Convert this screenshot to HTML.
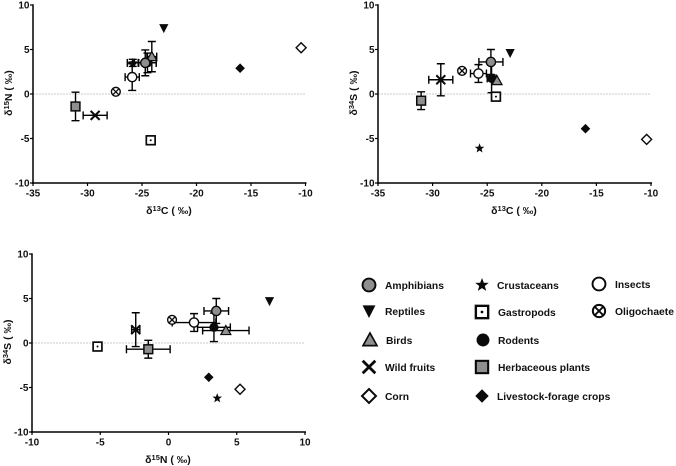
<!DOCTYPE html>
<html>
<head>
<meta charset="utf-8">
<style>
html,body{margin:0;padding:0;background:#fff;width:676px;height:466px;overflow:hidden}
svg{display:block}
text{font-family:"Liberation Sans",sans-serif;font-weight:bold;fill:#111}
</style>
</head>
<body>
<svg id="fig" width="676" height="466" viewBox="0 0 676 466" xmlns="http://www.w3.org/2000/svg">
<g id="legend"></g>
</svg>
<script>
const categories = ['rodents','herbaceous','crustaceans','insects','oligochaete','wild-fruits','birds','amphibians','reptiles','corn','gastropods','livestock'];
const legendLabels = ['Rodents','Herbaceous plants','Crustaceans','Insects','Oligochaete','Wild fruits','Birds','Amphibians','Reptiles','Corn','Gastropods','Livestock-forage crops'];
const d13cTicks = [-35,-30,-25,-20,-15,-10];
const d15nTicks = [-10,-5,0,5,10];
const d34sTicks = [-10,-5,0,5,10];

const carbonA = [-24.5,-31.1,-25.85,-25.9,-27.4,-29.3,-24.1,-24.7,-23,-10.4,-24.2,-16];
const nitrogenA = [3.5,-1.4,3.5,1.9,0.25,-2.4,4.2,3.5,7.4,5.2,-5.2,2.9];
const carbonAErr = [0.8,0.1,0.5,0.65,0,1.1,0.45,1,0,0,0,0];
const nitrogenAErr = [1.1,1.6,0.4,1.5,0,0,1.7,1.45,0,0,0,0];

const carbonB = [-24.6,-31.05,-25.7,-25.8,-27.3,-29.25,-24.1,-24.66,-22.9,-10.4,-24.2,-16];
const sulfurB = [1.75,-0.75,-6.1,2.3,2.6,1.6,1.5,3.6,4.6,-5.1,-0.3,-3.9];
const carbonBErr = [0.4,0.1,0,0.73,0,1.1,0,1.1,0,0,0,0];
const sulfurBErr = [1.6,1,0,1,0,1.8,0,1.4,0,0,0,0];

const nitrogenC = [3.33,-1.48,3.57,1.87,0.26,-2.4,4.2,3.5,7.4,5.24,-5.2,2.95];
const sulfurC = [1.76,-0.7,-6.2,2.3,2.6,1.5,1.4,3.6,4.7,-5.2,-0.4,-3.85];
const nitrogenCErr = [1.2,1.6,0,1.6,0,0.3,1.7,0.9,0,0,0,0];
const sulfurCErr = [1.6,1,0,1,0,1.9,0,1.4,0,0,0,0];

const svg = document.getElementById('fig');
const NS = 'http://www.w3.org/2000/svg';
function mk(tag, attrs, parent){
  const el = document.createElementNS(NS, tag);
  for (const k in attrs) el.setAttribute(k, attrs[k]);
  parent.appendChild(el);
  return el;
}
function marker(kind, p, cx, cy){
  const g = mk('g', {transform:'translate('+cx+','+cy+')'}, p);
  const ink = '#0a0a0a';
  if (kind==='amphibians') mk('circle',{r:4.6,fill:'#8f8f8f',stroke:ink,'stroke-width':1.4},g);
  if (kind==='reptiles') mk('path',{d:'M-4.6,-4 L4.6,-4 L0,5 Z',fill:ink},g);
  if (kind==='birds') mk('path',{d:'M0,-5 L5,4 L-5,4 Z',fill:'#8f8f8f',stroke:ink,'stroke-width':1.2},g);
  if (kind==='wild-fruits') mk('path',{d:'M-4.5,-4.5 L4.5,4.5 M-4.5,4.5 L4.5,-4.5',fill:'none',stroke:ink,'stroke-width':2},g);
  if (kind==='corn') mk('path',{d:'M0,-5 L5,0 L0,5 L-5,0 Z',fill:'#fff',stroke:ink,'stroke-width':1.4},g);
  if (kind==='crustaceans') mk('path',{d:'M0,-5 L1.3,-1.6 L4.8,-1.5 L2,0.7 L3,4.2 L0,2.2 L-3,4.2 L-2,0.7 L-4.8,-1.5 L-1.3,-1.6 Z',fill:ink},g);
  if (kind==='gastropods'){
    mk('rect',{x:-4.4,y:-4.4,width:8.8,height:8.8,fill:'#fff',stroke:ink,'stroke-width':1.7},g);
    mk('circle',{r:1,fill:ink},g);
  }
  if (kind==='rodents') mk('circle',{r:4.6,fill:ink},g);
  if (kind==='herbaceous') mk('rect',{x:-4.4,y:-4.4,width:8.8,height:8.8,fill:'#8f8f8f',stroke:ink,'stroke-width':1.5},g);
  if (kind==='livestock') mk('path',{d:'M0,-4.8 L4.8,0 L0,4.8 L-4.8,0 Z',fill:ink},g);
  if (kind==='insects') mk('circle',{r:4.6,fill:'#fff',stroke:ink,'stroke-width':1.4},g);
  if (kind==='oligochaete'){
    mk('circle',{r:4.4,fill:'#fff',stroke:ink,'stroke-width':1.4},g);
    mk('path',{d:'M-3,-3 L3,3 M-3,3 L3,-3',stroke:ink,'stroke-width':1.3,fill:'none'},g);
  }
  return g;
}
function addLabel(parent, x, y, rot, base, iso, rest){
  const t = mk('text',{x:x,y:y,'font-size':10.5,'text-anchor':'middle'},parent);
  if (rot) t.setAttribute('transform','rotate(-90 '+x+' '+y+')');
  t.appendChild(document.createTextNode(base));
  const s = mk('tspan',{dy:-3,'font-size':7.5},t);
  s.textContent = iso;
  const r = mk('tspan',{dy:3},t);
  r.textContent = rest;
  return t;
}
function drawPanel(cfg){
  const g = mk('g',{},svg);
  
  
  const sx = v => cfg.left + (v-cfg.xTicks[0])/(cfg.xTicks[cfg.xTicks.length-1]-cfg.xTicks[0])*(cfg.right-cfg.left);
  const sy = v => cfg.bottom - (v+10)/20*(cfg.bottom-cfg.top);
  const zero = mk('line',{x1:cfg.left,x2:cfg.right,y1:sy(0),y2:sy(0),stroke:'#bbb','stroke-width':0.7,'stroke-dasharray':'2 1'},g);
  
  
  const xAxis = mk('line',{x1:cfg.left-1,x2:cfg.right+1,y1:cfg.bottom,y2:cfg.bottom,stroke:'#000','stroke-width':1.5},g);
  
  
  const yAxis = mk('line',{x1:cfg.left,x2:cfg.left,y1:cfg.top-0.7,y2:cfg.bottom+0.7,stroke:'#000','stroke-width':1.5},g);
  
  
  cfg.xTicks.forEach(v=>{
    mk('line',{x1:sx(v),x2:sx(v),y1:cfg.bottom,y2:cfg.bottom+3,stroke:'#000','stroke-width':1.2},g);
    const t = mk('text',{x:sx(v),y:cfg.bottom+13.5,'font-size':10,'text-anchor':'middle'},g);
    
    
    t.textContent = v;
  });
  cfg.yTicks.forEach(v=>{
    mk('line',{x1:cfg.left-3,x2:cfg.left,y1:sy(v),y2:sy(v),stroke:'#000','stroke-width':1.2},g);
    const t = mk('text',{x:cfg.left-3.5,y:sy(v)+3.6,'font-size':10,'text-anchor':'end'},g);
    
    
    t.textContent = v;
  });
  const xt = addLabel(g,cfg.xTitle.x,cfg.bottom+31,false,'δ',cfg.xTitle.iso,cfg.xTitle.rest);
  
  
  const yt = addLabel(g,cfg.left-21,(cfg.top+cfg.bottom)/2-1,true,'δ',cfg.yTitle.iso,cfg.yTitle.rest);
  
  
  categories.forEach((c,i)=>{
    const px = sx(cfg.xs[i]), py = sy(cfg.ys[i]);
    const bars = mk('g',{stroke:'#000','stroke-width':1.4,fill:'none'},g);
    
    
    if (cfg.xe[i]>0){
      const a = sx(cfg.xs[i]-cfg.xe[i]), b = sx(cfg.xs[i]+cfg.xe[i]);
      mk('path',{d:'M'+a+','+py+' L'+b+','+py+' M'+a+','+(py-4)+' L'+a+','+(py+4)+' M'+b+','+(py-4)+' L'+b+','+(py+4)},bars);
    }
    if (cfg.ye[i]>0){
      const a = sy(cfg.ys[i]-cfg.ye[i]), b = sy(cfg.ys[i]+cfg.ye[i]);
      mk('path',{d:'M'+px+','+a+' L'+px+','+b+' M'+(px-4)+','+a+' L'+(px+4)+','+a+' M'+(px-4)+','+b+' L'+(px+4)+','+b},bars);
    }
  });
  categories.forEach((c,i)=>{
    const m = marker(c,g,sx(cfg.xs[i]),sy(cfg.ys[i]));
    
    
  });
}
drawPanel({name:'panel-carbon-nitrogen',left:33,right:305.5,top:5,bottom:183,xTicks:d13cTicks,yTicks:d15nTicks,xs:carbonA,ys:nitrogenA,xe:carbonAErr,ye:nitrogenAErr,xTitle:{x:169,iso:'13',rest:'C ( ‰)'},yTitle:{iso:'15',rest:'N ( ‰)'}});
drawPanel({name:'panel-carbon-sulfur',left:378,right:651,top:5,bottom:183,xTicks:d13cTicks,yTicks:d34sTicks,xs:carbonB,ys:sulfurB,xe:carbonBErr,ye:sulfurBErr,xTitle:{x:514,iso:'13',rest:'C ( ‰)'},yTitle:{iso:'34',rest:'S ( ‰)'}});
drawPanel({name:'panel-nitrogen-sulfur',left:32,right:305,top:254,bottom:432,xTicks:d15nTicks,yTicks:d34sTicks,xs:nitrogenC,ys:sulfurC,xe:nitrogenCErr,ye:sulfurCErr,xTitle:{x:168,iso:'15',rest:'N ( ‰)'},yTitle:{iso:'34',rest:'S ( ‰)'}});

const legend = document.getElementById('legend');
const legendSlots = {
  'amphibians':[369,285,385,289],'reptiles':[369,311,385,315],'birds':[370,340,386,344],'wild-fruits':[369,367,385,371],'corn':[369,396,385,400],
  'crustaceans':[482,285,497,289],'gastropods':[482,312,498,316],'rodents':[483,340,498,344],'herbaceous':[482,367,498,371],'livestock':[482,396,497,400],
  'insects':[599,284,615,288],'oligochaete':[599,311,615,315]
};
categories.forEach((c,i)=>{
  const s = legendSlots[c];
  const item = mk('g',{},legend);
  
  
  const m = marker(c,item,s[0],s[1]);
  m.setAttribute('transform','translate('+s[0]+','+s[1]+') scale(1.4)');
  const t = mk('text',{x:s[2],y:s[3],'font-size':10.3},item);
  t.textContent = legendLabels[i];
});
</script>
</body>
</html>
